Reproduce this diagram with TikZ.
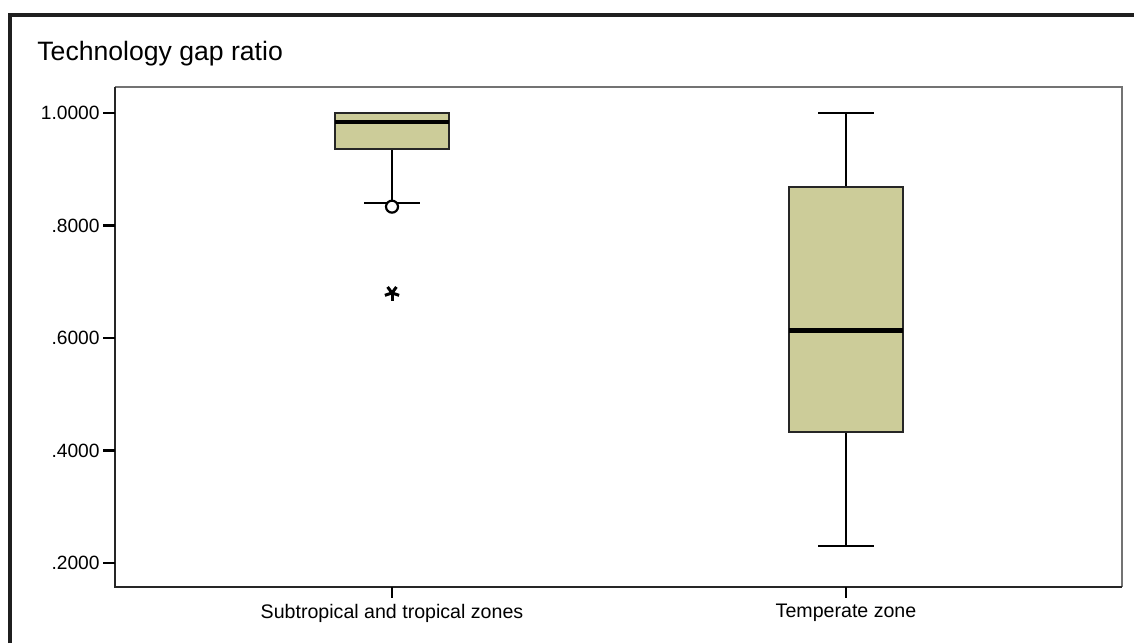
\documentclass[tikz,border=0pt]{standalone}
\usepackage{fontspec}
\setmainfont{Liberation Sans}
\usepackage{xcolor}
\usetikzlibrary{positioning, calc}

\definecolor{boxfill}{RGB}{204,204,153}

\begin{document}
\begin{tikzpicture}[
  x=0.5pt, y=-0.5pt,
  declare function={yv(\v)=113+(1-\v)*562.5;},
  frame/.style={line width=1.6pt, draw=black!88},
  axisline/.style={line width=1.3pt, draw=black!85},
  rimline/.style={line width=1.3pt, draw=black!55},
  tick/.style={line width=1.2pt, draw=black},
  ticklabel/.style={font=\fontsize{9.6pt}{11pt}\selectfont, anchor=east,
    inner sep=0pt},
  catlabel/.style={font=\fontsize{9.8pt}{11pt}\selectfont, inner sep=0pt},
  iqrbox/.style={fill=boxfill, draw=black!85, line width=0.9pt},
  whisker/.style={line width=1.3pt, draw=black},
  median/.style={line width=2.4pt, draw=black},
]

%%% Canvas
\useasboundingbox (0,0) rectangle (1134,643);
\fill[white] (0,0) rectangle (1134,643);

%%% Outer frame (open at right and bottom)
\draw[frame] (10,643) -- (10,15) -- (1134,15);

%%% Title
\node[font=\fontsize{13.3pt}{15pt}\selectfont, anchor=base west,
  inner sep=0pt] (title) at (37,60) {Technology gap ratio};

%%% Plot area
\draw[rimline] (115,87) -- (1122,87) -- (1122,587);
\draw[axisline] (115,87) -- (115,587) -- (1122,587);

%%% Y axis ticks and labels
\foreach \v/\lab [count=\i] in {1/1.0000, 0.8/.8000, 0.6/.6000,
    0.4/.4000, 0.2/.2000} {
  \draw[tick] (103,{yv(\v)}) -- (115,{yv(\v)});
  \node[ticklabel] (ylab\i) at (100,{yv(\v)}) {\lab};
}

%%% X axis ticks and categories
\draw[tick] (392,587) -- (392,598);
\draw[tick] (846,587) -- (846,598);
\node[catlabel] (catA) at (392,613) {Subtropical and tropical zones};
\node[catlabel] (catB) at (846,613) {Temperate zone};

%%% Box A: subtropical and tropical zones
\draw[whisker] (392,{yv(0.936)}) -- (392,{yv(0.84)});
\draw[whisker] (364,{yv(0.84)}) -- (420,{yv(0.84)});
\draw[iqrbox] (335,{yv(1)}) rectangle (449,{yv(0.936)});
\draw[median] (335,{yv(0.984)}) -- (449,{yv(0.984)});
\draw[line width=1.1pt, fill=white] (392,{yv(0.8335)}) circle[radius=6];
\foreach \a in {90,162,234,306,378}
  \draw[line width=1.5pt] (392,{yv(0.68)}) -- ++(\a:7.5);

%%% Box B: temperate zone
\draw[whisker] (846,{yv(1)}) -- (846,{yv(0.23)});
\draw[whisker] (818,{yv(1)}) -- (874,{yv(1)});
\draw[whisker] (818,{yv(0.23)}) -- (874,{yv(0.23)});
\draw[iqrbox] (789,{yv(0.868)}) rectangle (903,{yv(0.433)});
\draw[median] (789,{yv(0.614)}) -- (903,{yv(0.614)});

\end{tikzpicture}
\end{document}
